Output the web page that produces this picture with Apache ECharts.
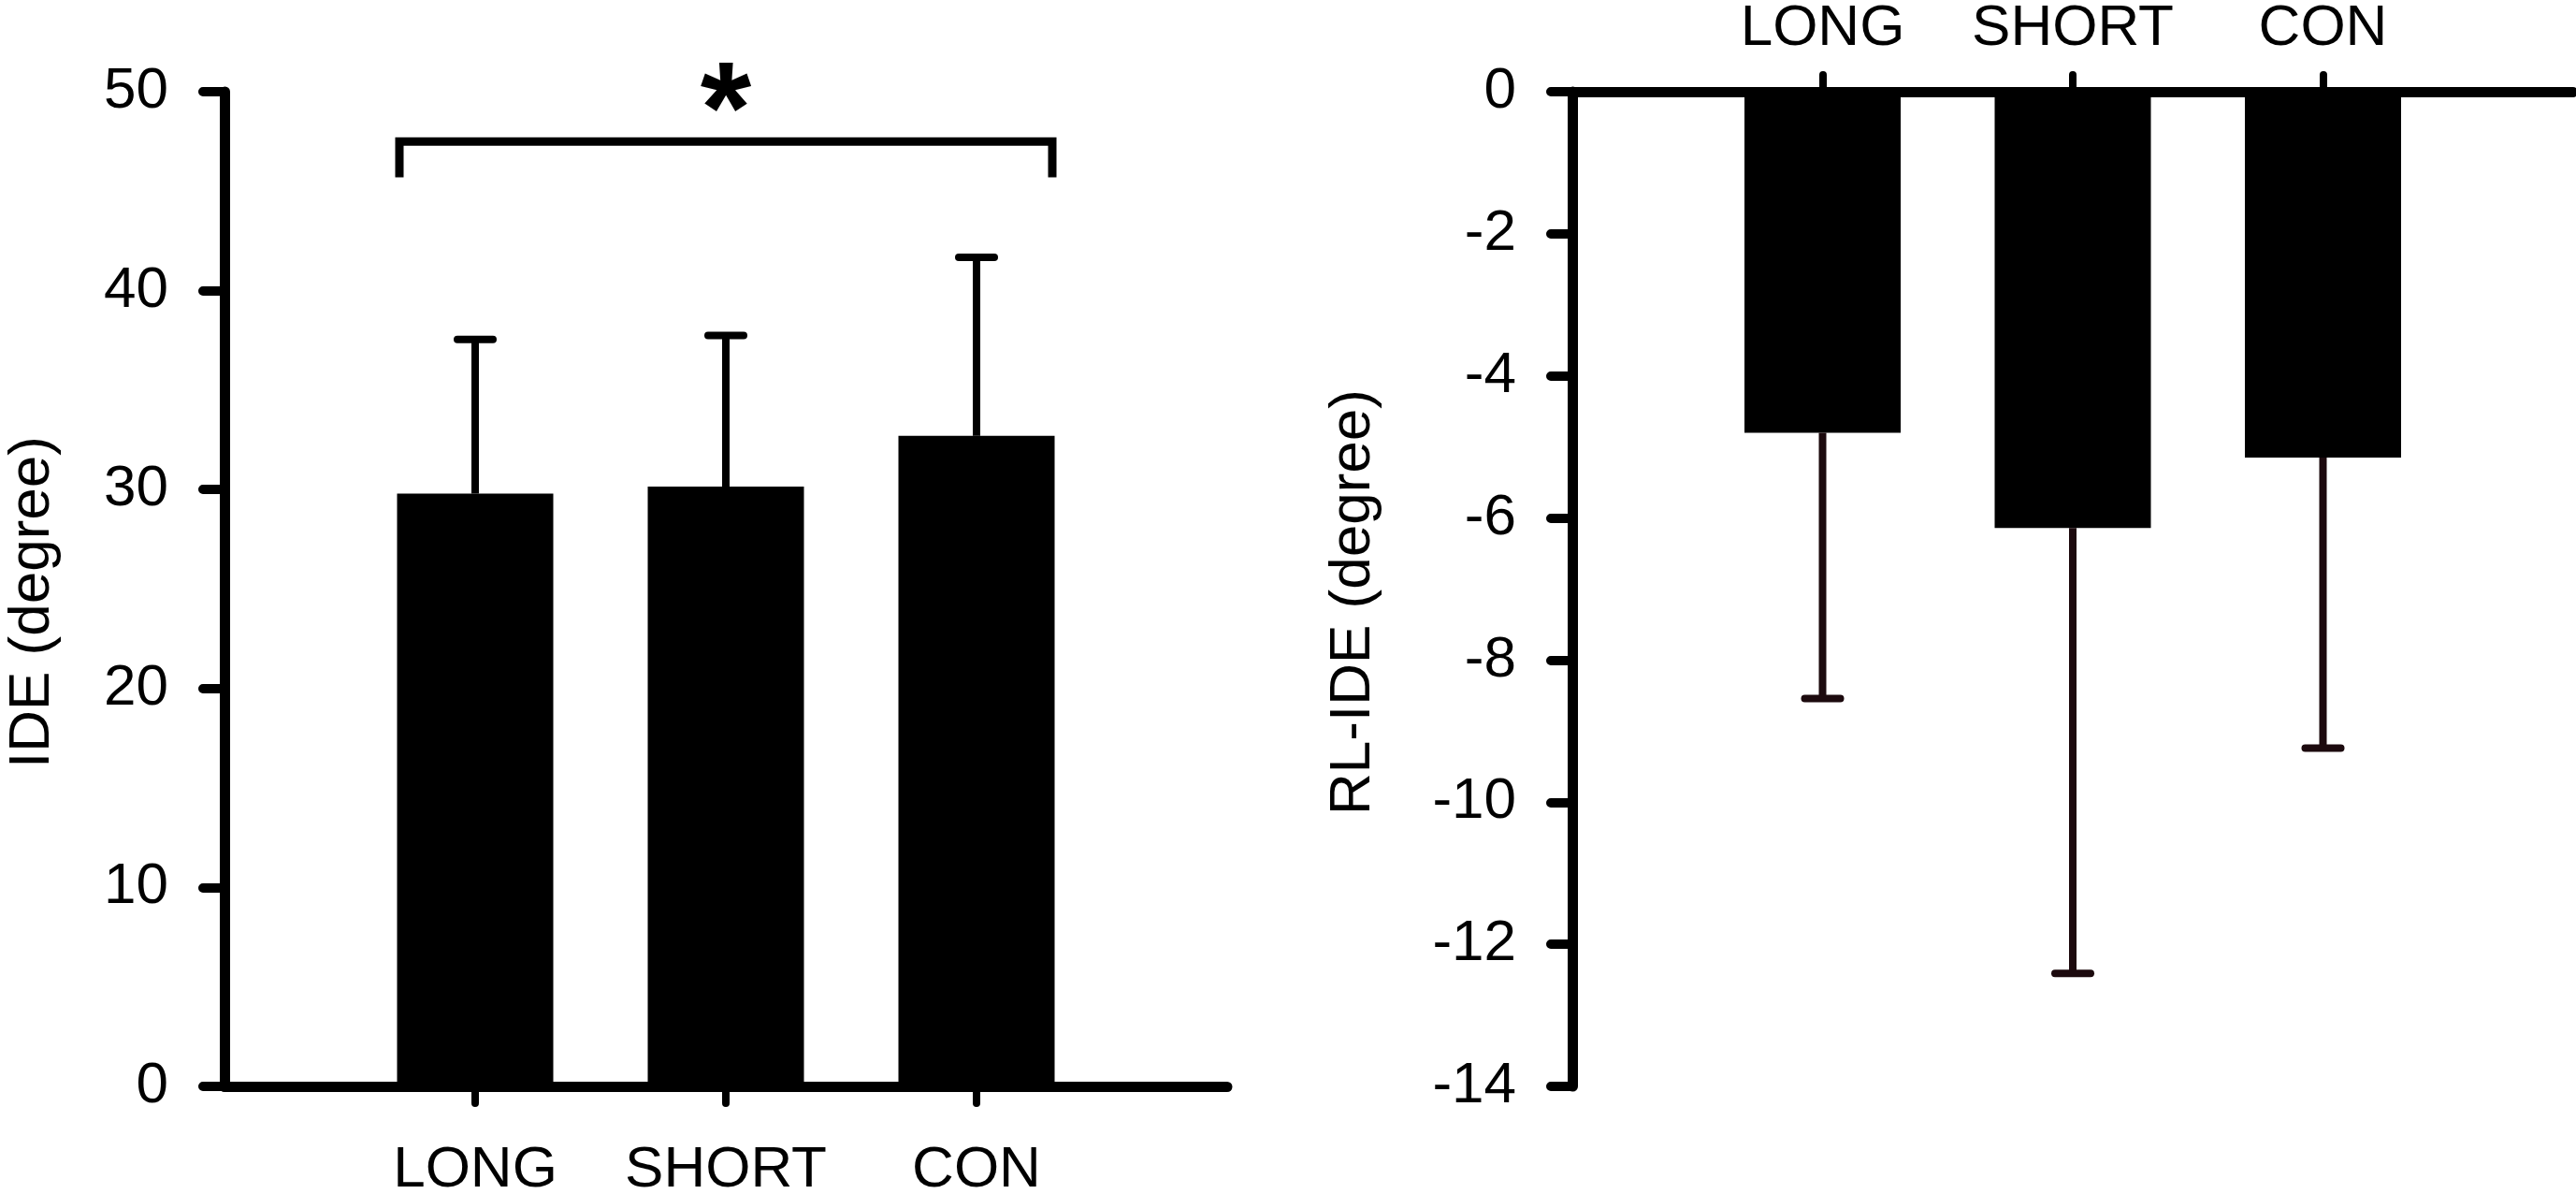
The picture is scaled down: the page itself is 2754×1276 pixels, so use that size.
<!DOCTYPE html>
<html>
<head>
<meta charset="utf-8">
<title>IDE / RL-IDE</title>
<script src="https://cdn.jsdelivr.net/npm/echarts@6/dist/echarts.min.js"></script>
<style>
  html, body { margin: 0; padding: 0; background: #fff; }
  #main { width: 2754px; height: 1276px; }
</style>
</head>
<body>
<div id="main"></div>
<script>
// groups (category axis has an empty slot on each side)
var groups = ['LONG', 'SHORT', 'CON'];
var categories = [''].concat(groups, [' ']);

// left panel: IDE (degree), mean and SD (upper bar)
var ideMean = [29.8, 30.15, 32.7];
var ideSd = [7.75, 7.6, 8.97];
var ideTicks = [0, 50, 10];        // min, max, interval

// right panel: RL-IDE (degree), mean and SD (lower bar)
var rlMean = [-4.8, -6.14, -5.15];
var rlSd = [3.74, 6.27, 4.09];
var rlTicks = [-14, 0, 2];

// significance bracket LONG vs CON
var sigFrom = 'LONG', sigTo = 'CON';
var sigTop = 47.5, sigLeg = 45.7;

var FONT = '"Liberation Sans", Arial, sans-serif';
var BAR_W = 167;
var ERR_COLOR_R = '#1c0a0e';

function pairs(vals, errs) {
  return groups.map(function (g, i) {
    return errs ? [g, vals[i], errs[i]] : [g, vals[i]];
  });
}

function errorBar(dir, color) {
  return function (params, api) {
    var x = api.value(0), m = api.value(1), e = api.value(2);
    var p0 = api.coord([x, m]);
    var p1 = api.coord([x, m + dir * e]);
    return {
      type: 'group',
      children: [
        { type: 'line', shape: { x1: p0[0], y1: p0[1], x2: p1[0], y2: p1[1] },
          style: { stroke: color, lineWidth: 8 } },
        { type: 'line', shape: { x1: p1[0] - 19, y1: p1[1], x2: p1[0] + 19, y2: p1[1] },
          style: { stroke: color, lineWidth: 8, lineCap: 'round' } }
      ]
    };
  };
}

function catAxis(gridIndex, pos, margin) {
  return {
    type: 'category', gridIndex: gridIndex, position: pos,
    data: categories, boundaryGap: false,
    axisLine: { onZero: false, lineStyle: { color: '#000', width: 11, cap: 'round' } },
    axisTick: {
      length: 18, alignWithLabel: true,
      interval: function (i) { return i >= 1 && i <= groups.length; },
      lineStyle: { color: '#000', width: 8, cap: 'round' }
    },
    axisLabel: {
      margin: margin, fontSize: 62, color: '#000', fontFamily: FONT,
      interval: 0
    },
    splitLine: { show: false }
  };
}

function valAxis(gridIndex, t, name, gap, margin) {
  return {
    type: 'value', gridIndex: gridIndex,
    min: t[0], max: t[1], interval: t[2],
    name: name, nameLocation: 'middle', nameGap: gap,
    nameTextStyle: { fontSize: 62, color: '#000', fontFamily: FONT, padding: [0, 28, 0, 0] },
    axisLine: { show: true, lineStyle: { color: '#000', width: 11, cap: 'round' } },
    axisTick: { show: true, length: 23, lineStyle: { color: '#000', width: 10, cap: 'round' } },
    axisLabel: { margin: margin, fontSize: 62, color: '#000', fontFamily: FONT },
    splitLine: { show: false }
  };
}

var chart = echarts.init(document.getElementById('main'));

chart.setOption({
  animation: false,
  backgroundColor: '#fff',
  grid: [
    { left: 240, top: 98, width: 1072, height: 1063, outerBoundsMode: 'none' },
    { left: 1681, top: 98, width: 1070, height: 1063, outerBoundsMode: 'none' }
  ],
  xAxis: [catAxis(0, 'bottom', 59), catAxis(1, 'top', 36)],
  yAxis: [
    valAxis(0, ideTicks, 'IDE (degree)', 174, 60),
    valAxis(1, rlTicks, 'RL-IDE (degree)', 203, 60)
  ],
  series: [
    {
      type: 'bar', xAxisIndex: 0, yAxisIndex: 0,
      data: pairs(ideMean), barWidth: BAR_W,
      itemStyle: { color: '#000' }, z: 2
    },
    {
      type: 'custom', xAxisIndex: 0, yAxisIndex: 0, z: 3,
      data: pairs(ideMean, ideSd), renderItem: errorBar(1, '#000')
    },
    {
      type: 'bar', xAxisIndex: 1, yAxisIndex: 1,
      data: pairs(rlMean), barWidth: BAR_W,
      itemStyle: { color: '#000' }, z: 2
    },
    {
      type: 'custom', xAxisIndex: 1, yAxisIndex: 1, z: 3,
      data: pairs(rlMean, rlSd), renderItem: errorBar(-1, ERR_COLOR_R)
    },
    {
      // significance bracket with asterisk
      type: 'custom', xAxisIndex: 0, yAxisIndex: 0, z: 4,
      encode: { x: [0, 1], y: [2, 3] },
      data: [[sigFrom, sigTo, sigTop, sigLeg]],
      renderItem: function (params, api) {
        var a = api.coord([api.value(0), api.value(2)]);
        var b = api.coord([api.value(1), api.value(2)]);
        var legY = api.coord([api.value(0), api.value(3)])[1];
        var off = BAR_W / 2 - 2.5;
        var x1 = a[0] - off, x2 = b[0] + off;
        return {
          type: 'group',
          children: [
            { type: 'polyline',
              shape: { points: [[x1, legY], [x1, a[1]], [x2, a[1]], [x2, legY]] },
              style: { stroke: '#000', lineWidth: 9, fill: null, lineJoin: 'miter' } },
            { type: 'text',
              style: { text: '*', x: (x1 + x2) / 2, y: a[1] - 27,
                       align: 'center', verticalAlign: 'middle',
                       fontSize: 140, fontWeight: 'bold', fontFamily: FONT, fill: '#000' } }
          ]
        };
      }
    }
  ]
});
</script>
</body>
</html>
